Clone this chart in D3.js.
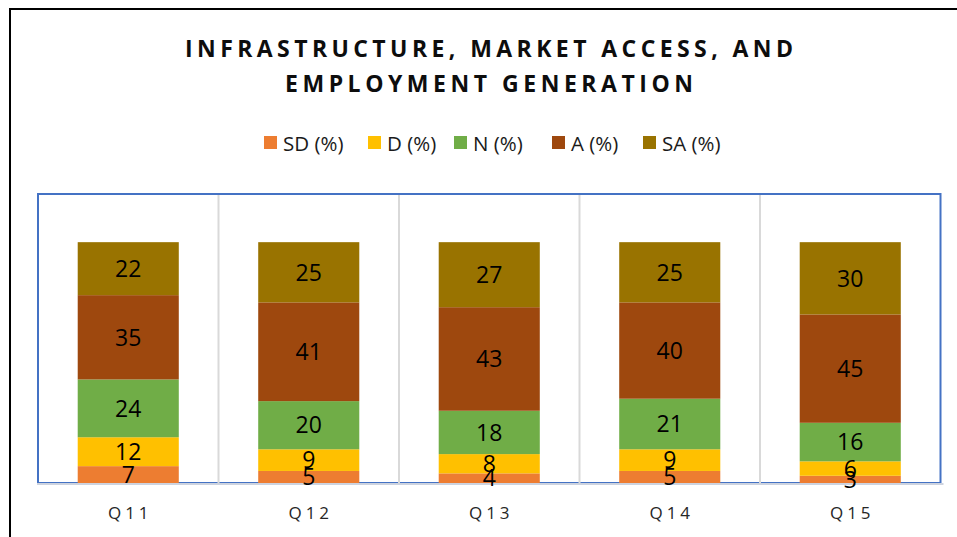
<!DOCTYPE html>
<html>
<head>
<meta charset="utf-8">
<script src="https://cdn.jsdelivr.net/npm/d3@7"></script>
<style>
  html, body { margin: 0; padding: 0; background: #fff; }
  svg { display: block; }
</style>
</head>
<body>
<svg id="chart" width="957" height="537"></svg>
<script>
const categories = ["Q11", "Q12", "Q13", "Q14", "Q15"];
const seriesNames = ["SD (%)", "D (%)", "N (%)", "A (%)", "SA (%)"];
const SD = [7, 5, 4, 5, 3];
const D  = [12, 9, 8, 9, 6];
const N  = [24, 20, 18, 21, 16];
const A  = [35, 41, 43, 40, 45];
const SA = [22, 25, 27, 25, 30];
const colors = ["#ED7D31", "#FFC000", "#70AD47", "#9E480E", "#997300"];
const titleLines = ["INFRASTRUCTURE, MARKET ACCESS, AND", "EMPLOYMENT GENERATION"];
const yMax = 120;

(function () {
const seriesValues = [SD, D, N, A, SA];
const keys = ["SD", "D", "N", "A", "SA"];
const table = categories.map((c, i) => {
  const row = { cat: c };
  keys.forEach((k, j) => row[k] = seriesValues[j][i]);
  return row;
});

const svg = d3.select("#chart");
const font = "'Open Sans', 'Noto Sans', sans-serif";

// outer frame (partially visible)
svg.append("path")
  .attr("d", "M10,545 V9 H965")
  .attr("fill", "none").attr("stroke", "#000").attr("stroke-width", 2);

// title
const tl = [{t: titleLines[0], y: 57, w: 608}, {t: titleLines[1], y: 92, w: 408}];
svg.selectAll("text.title").data(tl).join("text")
  .attr("class", "title")
  .attr("x", 489).attr("y", d => d.y)
  .attr("text-anchor", "middle")
  .attr("font-family", font).attr("font-weight", "bold")
  .attr("font-size", 23).attr("fill", "#0d0d0d")
  .attr("textLength", d => d.w).attr("lengthAdjust", "spacing")
  .text(d => d.t);

// legend
const legendX = [264, 368, 454, 552, 643];
const lg = svg.append("g");
seriesNames.forEach((s, i) => {
  lg.append("rect").attr("x", legendX[i]).attr("y", 136).attr("width", 13).attr("height", 13).attr("fill", colors[i]);
  lg.append("text").attr("x", legendX[i] + 19).attr("y", 150.5)
    .attr("font-family", font).attr("font-size", 20.5).attr("fill", "#1a1a1a")
    .text(s);
});

// scales
const pLeft = 38, pRight = 940.5, pTop = 194, pBottom = 483;
const x = d3.scaleBand().domain(categories).range([pLeft, pRight]).paddingInner(0.44).paddingOuter(0.22);
const y = d3.scaleLinear().domain([0, yMax]).range([pBottom, pTop]);
const step = x.step();

// plot area border
svg.append("rect").attr("x", pLeft).attr("y", pTop).attr("width", pRight - pLeft).attr("height", pBottom - pTop)
  .attr("fill", "none").attr("stroke", "#4472C4").attr("stroke-width", 2);

// vertical category separators
svg.selectAll("line.sep").data(categories.slice(1)).join("line")
  .attr("class", "sep")
  .attr("x1", d => x(d) + x.bandwidth() / 2 - step / 2)
  .attr("x2", d => x(d) + x.bandwidth() / 2 - step / 2)
  .attr("y1", pTop + 1).attr("y2", pBottom)
  .attr("stroke", "#D9D9D9").attr("stroke-width", 2);

// stacks
const stack = d3.stack().keys(keys)(table);
const layers = svg.selectAll("g.layer").data(stack).join("g")
  .attr("class", "layer").attr("fill", (d, i) => colors[i]);
layers.selectAll("rect").data(d => d).join("rect")
  .attr("x", d => x(d.data.cat))
  .attr("width", x.bandwidth())
  .attr("y", d => y(d[1]))
  .attr("height", d => y(d[0]) - y(d[1]));

// x axis line
const xAxis = d3.axisBottom(x).tickSize(0).tickPadding(0);
const ax = svg.append("g").attr("transform", `translate(0,${pBottom + 1})`).call(xAxis);
ax.select(".domain").attr("stroke", "#CDD3DF").attr("stroke-width", 2).attr("d", `M${pLeft - 1},0H${pRight + 3}`);
ax.selectAll(".tick text")
  .attr("y", 23)
  .attr("dx", "2px")
  .attr("font-family", font).attr("font-size", 17).attr("fill", "#262626")
  .style("letter-spacing", "4px");

// data labels
const lblG = svg.append("g");
stack.forEach(layer => {
  lblG.append("g").selectAll("text").data(layer).join("text")
    .attr("x", d => x(d.data.cat) + x.bandwidth() / 2)
    .attr("y", d => (y(d[0]) + y(d[1])) / 2)
    .attr("dy", "0.36em")
    .attr("text-anchor", "middle")
    .attr("font-family", font).attr("font-size", 23).attr("fill", "#000")
    .text(d => d[1] - d[0]);
});
})();
</script>
</body>
</html>
